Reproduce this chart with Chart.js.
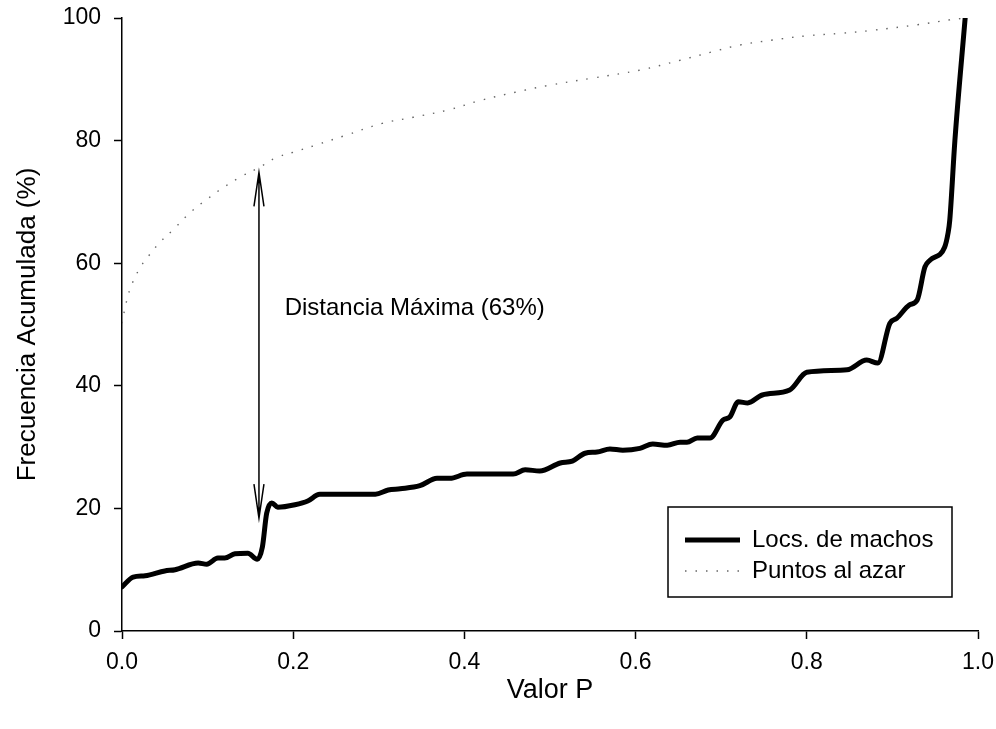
<!DOCTYPE html>
<html>
<head>
<meta charset="utf-8">
<script src="https://cdn.jsdelivr.net/npm/chart.js@4.4.1/dist/chart.umd.min.js"></script>
<style>
    body { margin: 0; background: #fff; }
</style>
</head>
<body>
<canvas id="ksChart" width="996" height="729"></canvas>
<script>
// Locs. de machos (frecuencia acumulada vs valor P)
const machosP = [0, 0.013, 0.027, 0.05, 0.062, 0.089, 0.099, 0.112, 0.12, 0.132, 0.147, 0.158, 0.164, 0.169, 0.175, 0.182,
    0.202, 0.217, 0.231, 0.296, 0.311, 0.325, 0.348, 0.368, 0.383, 0.403, 0.457, 0.471, 0.488, 0.512, 0.526, 0.541,
    0.555, 0.57, 0.585, 0.605, 0.62, 0.637, 0.652, 0.66, 0.672, 0.687, 0.702, 0.71, 0.72, 0.731, 0.748, 0.78, 0.8,
    0.847, 0.87, 0.883, 0.897, 0.905, 0.92, 0.929, 0.938, 0.944, 0.961, 0.965, 0.967, 0.973, 0.985];
const machosFrec = [7.2, 8.8, 9.0, 9.8, 10.0, 11.1, 10.9, 11.9, 11.9, 12.6, 12.7, 11.7, 13.7, 19.2, 20.9, 20.2,
    20.6, 21.2, 22.3, 22.3, 23.0, 23.2, 23.7, 24.9, 24.9, 25.6, 25.6, 26.3, 26.1, 27.4, 27.7, 29.0,
    29.2, 29.7, 29.5, 29.8, 30.5, 30.3, 30.8, 30.8, 31.5, 31.5, 34.4, 34.9, 37.4, 37.2, 38.5, 39.3, 42.2,
    42.6, 44.2, 43.7, 50.2, 51.0, 53.2, 54.0, 59.4, 60.5, 62.6, 64.9, 67, 80, 100];

// Puntos al azar
const azarP = [0, 0.004, 0.01, 0.02, 0.03, 0.045, 0.06, 0.08, 0.1, 0.12, 0.14, 0.16, 0.18, 0.2, 0.225, 0.26,
    0.304, 0.34, 0.381, 0.42, 0.46, 0.498, 0.55, 0.605, 0.652, 0.69, 0.722, 0.76, 0.8, 0.84, 0.877, 0.929, 0.967, 0.985];
const azarFrec = [50.2, 53, 56, 59, 61, 63.5, 65.5, 68.3, 70.5, 72.5, 74.2, 75.6, 77.2, 78.1, 79.2, 80.8,
    82.8, 83.8, 85.0, 86.6, 87.9, 89.0, 90.2, 91.5, 93.1, 94.5, 95.6, 96.4, 97.1, 97.5, 98.0, 98.9, 99.7, 100];

const seriesNames = ["Locs. de machos", "Puntos al azar"];

// maxima distancia entre las dos curvas
const maxDistP = 0.16;
const maxDistLow = 18.4;
const maxDistHigh = 74.8;
const maxDistLabel = "Distancia Máxima (63%)";
const labelP = 0.19;
const labelFrec = 51.5;

const FONT = "'Liberation Sans', Arial, sans-serif";
const dotStyle = { color: "#666", width: 1.4, dash: [1.5, 9] };

const toXY = (xs, ys) => xs.map((x, i) => ({ x: x, y: ys[i] }));

// flecha de doble punta y texto
const arrowPlugin = {
    id: "arrowPlugin",
    afterDatasetsDraw(chart) {
        const ctx = chart.ctx;
        const xs = chart.scales.x;
        const ys = chart.scales.y;
        const px = xs.getPixelForValue(maxDistP);
        const yTop = ys.getPixelForValue(maxDistHigh);
        const yBot = ys.getPixelForValue(maxDistLow);
        const headLen = 34;
        const headW = 5;

        ctx.save();
        ctx.strokeStyle = "#000";
        ctx.lineWidth = 1.5;
        ctx.beginPath();
        ctx.moveTo(px, yTop);
        ctx.lineTo(px, yBot);
        // punta de arriba
        ctx.moveTo(px - headW, yTop + headLen);
        ctx.lineTo(px, yTop);
        ctx.lineTo(px + headW, yTop + headLen);
        // punta de abajo
        ctx.moveTo(px - headW, yBot - headLen);
        ctx.lineTo(px, yBot);
        ctx.lineTo(px + headW, yBot - headLen);
        ctx.stroke();

        ctx.fillStyle = "#000";
        ctx.font = "24px " + FONT;
        ctx.textAlign = "left";
        ctx.textBaseline = "alphabetic";
        ctx.fillText(maxDistLabel, xs.getPixelForValue(labelP), ys.getPixelForValue(labelFrec));
        ctx.restore();
    },
};

// leyenda con recuadro
const boxLegend = {
    id: "boxLegend",
    afterDraw(chart) {
        const ctx = chart.ctx;
        const area = chart.chartArea;
        const left = area.right - 310;
        const top = area.bottom - 124;
        const w = 284;
        const h = 90;

        ctx.save();
        ctx.strokeStyle = "#000";
        ctx.lineWidth = 1.5;
        ctx.strokeRect(left, top, w, h);

        ctx.font = "24px " + FONT;
        ctx.fillStyle = "#000";
        ctx.textBaseline = "middle";
        ctx.textAlign = "left";

        let y1 = top + 33;
        ctx.lineWidth = 5;
        ctx.beginPath();
        ctx.moveTo(left + 17, y1);
        ctx.lineTo(left + 72, y1);
        ctx.stroke();
        ctx.fillText(seriesNames[0], left + 84, y1);

        let y2 = top + 64;
        ctx.strokeStyle = dotStyle.color;
        ctx.lineWidth = dotStyle.width;
        ctx.setLineDash(dotStyle.dash);
        ctx.beginPath();
        ctx.moveTo(left + 17, y2);
        ctx.lineTo(left + 72, y2);
        ctx.stroke();
        ctx.setLineDash([]);
        ctx.fillText(seriesNames[1], left + 84, y2);
        ctx.restore();
    },
};

const ctx = document.getElementById("ksChart").getContext("2d");

window.ksChart = new Chart(ctx, {
    type: "line",
    data: {
        datasets: [
            {
                label: seriesNames[0],
                data: toXY(machosP, machosFrec),
                borderColor: "#000",
                borderWidth: 5,
                pointRadius: 0,
                cubicInterpolationMode: "monotone",
                borderCapStyle: "round",
                borderJoinStyle: "round",
            },
            {
                label: seriesNames[1],
                data: toXY(azarP, azarFrec),
                borderColor: dotStyle.color,
                borderWidth: dotStyle.width,
                borderDash: dotStyle.dash,
                pointRadius: 0,
                tension: 0.4,
            },
        ],
    },
    options: {
        responsive: false,
        animation: false,
        layout: {
            padding: { left: 0, right: 18, top: 18, bottom: 0 },
        },
        scales: {
            x: {
                type: "linear",
                min: 0,
                max: 1,
                afterFit: (scale) => {
                    scale.height = 98;
                    scale.paddingLeft = 0;
                    scale.paddingRight = 0;
                },
                grid: {
                    drawOnChartArea: false,
                    drawTicks: true,
                    tickLength: 8,
                    tickColor: "#000",
                    tickWidth: 1.5,
                },
                border: { color: "#000", width: 1.5 },
                ticks: {
                    stepSize: 0.2,
                    color: "#000",
                    padding: 10,
                    maxRotation: 0,
                    font: { family: FONT, size: 23 },
                    callback: (v) => v.toFixed(1),
                },
                title: {
                    display: true,
                    text: "Valor P",
                    color: "#000",
                    font: { family: FONT, size: 27 },
                    padding: { top: 0, bottom: 22 },
                },
            },
            y: {
                min: 0,
                max: 100,
                afterFit: (scale) => {
                    scale.width = 122;
                    scale.paddingTop = 0;
                    scale.paddingBottom = 0;
                },
                grid: {
                    drawOnChartArea: false,
                    drawTicks: true,
                    tickLength: 8,
                    tickColor: "#000",
                    tickWidth: 1.5,
                },
                border: { color: "#000", width: 1.5 },
                ticks: {
                    stepSize: 20,
                    color: "#000",
                    padding: 13,
                    font: { family: FONT, size: 23 },
                },
                title: {
                    display: true,
                    text: "Frecuencia Acumulada (%)",
                    color: "#000",
                    font: { family: FONT, size: 26 },
                    padding: { top: 12, bottom: 0 },
                },
            },
        },
        plugins: {
            legend: { display: false },
            tooltip: { enabled: false },
        },
    },
    plugins: [arrowPlugin, boxLegend],
});
</script>
</body>
</html>
